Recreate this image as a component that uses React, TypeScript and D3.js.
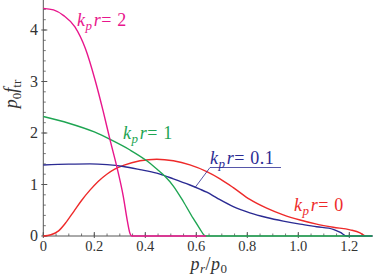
import React from "react";
import * as d3 from "d3";

const W = 373;
const H = 275;

const xTicks = [0, 0.2, 0.4, 0.6, 0.8, 1.0, 1.2];
const xTickLabels = ["0", "0.2", "0.4", "0.6", "0.8", "1.0", "1.2"];
const yTicks = [0, 1, 2, 3, 4];
const yTickLabels = ["0", "1", "2", "3", "4"];

// k_p r = 0 (red)
const redX = [0, 0.03, 0.06, 0.09, 0.12, 0.15, 0.183, 0.215, 0.249, 0.28, 0.314, 0.379, 0.445, 0.51, 0.575, 0.641, 0.693, 0.745, 0.81, 0.876, 0.941, 1.007, 1.072, 1.137, 1.203, 1.242, 1.262];
const redY = [0, 0.025, 0.1, 0.27, 0.48, 0.69, 0.89, 1.06, 1.2, 1.3, 1.37, 1.46, 1.49, 1.46, 1.38, 1.25, 1.11, 0.94, 0.71, 0.54, 0.41, 0.31, 0.23, 0.17, 0.12, 0.06, 0];

// k_p r = 0.1 (blue)
const blueX = [0, 0.1, 0.183, 0.25, 0.314, 0.379, 0.445, 0.51, 0.575, 0.614, 0.641, 0.68, 0.745, 0.81, 0.876, 0.941, 1.007, 1.072, 1.137, 1.165, 1.19, 1.29];
const blueY = [1.38, 1.395, 1.4, 1.385, 1.35, 1.29, 1.22, 1.11, 0.99, 0.91, 0.85, 0.74, 0.57, 0.45, 0.36, 0.29, 0.23, 0.18, 0.13, 0.07, 0, 0];

// k_p r = 1 (green)
const greenX = [0, 0.1, 0.2, 0.268, 0.34, 0.403, 0.445, 0.477, 0.51, 0.549, 0.588, 0.614, 0.63, 0.638, 1.29];
const greenY = [2.32, 2.19, 2.02, 1.86, 1.67, 1.47, 1.3, 1.16, 0.97, 0.67, 0.34, 0.14, 0.02, 0, 0];

// k_p r = 2 (magenta)
const pinkX = [0, 0.04, 0.08, 0.124, 0.165, 0.203, 0.235, 0.262, 0.288, 0.314, 0.329, 0.34, 0.347, 0.638];
const pinkY = [4.42, 4.39, 4.28, 4.06, 3.64, 3.03, 2.42, 1.86, 1.35, 0.76, 0.31, 0.05, 0, 0];

const RED = "#ee2a2a";
const BLUE = "#2b2b93";
const GREEN = "#1ea552";
const PINK = "#e8168c";
const AXIS = "#555555";

const SERIF = "'Liberation Serif', 'Times New Roman', 'DejaVu Serif', serif";

export default function App() {
  const x = d3.scaleLinear().domain([0, 1]).range([43.3, 298.3]);
  const y = d3.scaleLinear().domain([0, 1]).range([236, 184.5]);
  const xMax = x.invert(373);
  const yMax = y.invert(0);

  const line = d3
    .line<[number, number]>()
    .x((d) => x(d[0]))
    .y((d) => y(d[1]))
    .curve(d3.curveMonotoneX);

  const series = [
    { xs: redX, ys: redY, color: RED },
    { xs: blueX, ys: blueY, color: BLUE },
    { xs: greenX, ys: greenY, color: GREEN },
    { xs: pinkX, ys: pinkY, color: PINK },
  ];

  const xMinor = d3.range(0, xMax, 0.05);
  const yMinor = d3.range(0, yMax, 0.2);

  const font = (size: number) => ({ fontFamily: SERIF, fontSize: size + "px" });

  const label = (val: string, color: string, px: number, py: number) => (
    <text x={px} y={py} fill={color} style={{ ...font(18), letterSpacing: "0.6px" }}>
      <tspan fontStyle="italic">k</tspan>
      <tspan fontStyle="italic" style={{ fontSize: "13px" }} dy={4}>p</tspan>
      <tspan fontStyle="italic" dy={-4} dx={1}>r</tspan>
      <tspan>{"= " + val}</tspan>
    </text>
  );

  return (
    <svg
      width={W}
      height={H}
      style={{ position: "absolute", left: 0, top: 0, background: "#fff" }}
    >
      {/* axes */}
      <line x1={x(0)} x2={x(xMax)} y1={y(0)} y2={y(0)} stroke={AXIS} strokeWidth={1} />
      <line x1={x(0)} x2={x(0)} y1={y(0)} y2={y(yMax)} stroke={AXIS} strokeWidth={1} />
      {xMinor.map((t, i) => (
        <line key={"xm" + i} x1={x(t)} x2={x(t)} y1={y(0)} y2={y(0) - 2.5} stroke={AXIS} strokeWidth={0.8} />
      ))}
      {xTicks.map((t, i) => (
        <line key={"xM" + i} x1={x(t)} x2={x(t)} y1={y(0) + 2} y2={y(0) - 4} stroke={AXIS} strokeWidth={1} />
      ))}
      {yMinor.map((t, i) => (
        <line key={"ym" + i} x1={x(0)} x2={x(0) + 2.5} y1={y(t)} y2={y(t)} stroke={AXIS} strokeWidth={0.8} />
      ))}
      {yTicks.map((t, i) => (
        <line key={"yM" + i} x1={x(0) - 2} x2={x(0) + 4} y1={y(t)} y2={y(t)} stroke={AXIS} strokeWidth={1} />
      ))}
      {xTicks.map((t, i) => (
        <text key={"xl" + i} x={x(t)} y={251} textAnchor="middle" style={font(14.5)} fill="#333">
          {xTickLabels[i]}
        </text>
      ))}
      {yTicks.map((t, i) => (
        <text key={"yl" + i} x={38} y={y(t) + 5} textAnchor="end" style={font(16)} fill="#333">
          {yTickLabels[i]}
        </text>
      ))}

      {/* curves */}
      {series.map((s, i) => (
        <path
          key={"s" + i}
          d={line(s.xs.map((v, j) => [v, s.ys[j]] as [number, number])) || ""}
          fill="none"
          stroke={s.color}
          strokeWidth={1.4}
        />
      ))}

      {/* curve labels */}
      {label("2", PINK, 77, 26)}
      {label("1", GREEN, 123, 139)}
      {label("0.1", BLUE, 210, 164)}
      {label("0", RED, 294, 211)}
      <line x1={210} x2={281} y1={167.5} y2={167.5} stroke={BLUE} strokeWidth={0.8} />
      <line x1={210} x2={x(0.595)} y1={167.5} y2={y(0.94)} stroke={BLUE} strokeWidth={0.8} />

      {/* axis titles */}
      <text x={209} y={270} textAnchor="middle" style={{ ...font(18), letterSpacing: "0.5px" }} fill="#333">
        <tspan fontStyle="italic">p</tspan>
        <tspan fontStyle="italic" style={{ fontSize: "13px" }} dy={3}>r</tspan>
        <tspan dy={-3}>/</tspan>
        <tspan fontStyle="italic">p</tspan>
        <tspan style={{ fontSize: "13px" }} dy={3}>0</tspan>
      </text>
      <text transform="translate(17,94) rotate(-90)" textAnchor="middle" style={font(18)} fill="#333">
        <tspan fontStyle="italic">p</tspan>
        <tspan style={{ fontSize: "13px" }} dy={4}>0</tspan>
        <tspan fontStyle="italic" dy={-4}>f</tspan>
        <tspan style={{ fontSize: "13px" }} dy={4}>tr</tspan>
      </text>
    </svg>
  );
}
